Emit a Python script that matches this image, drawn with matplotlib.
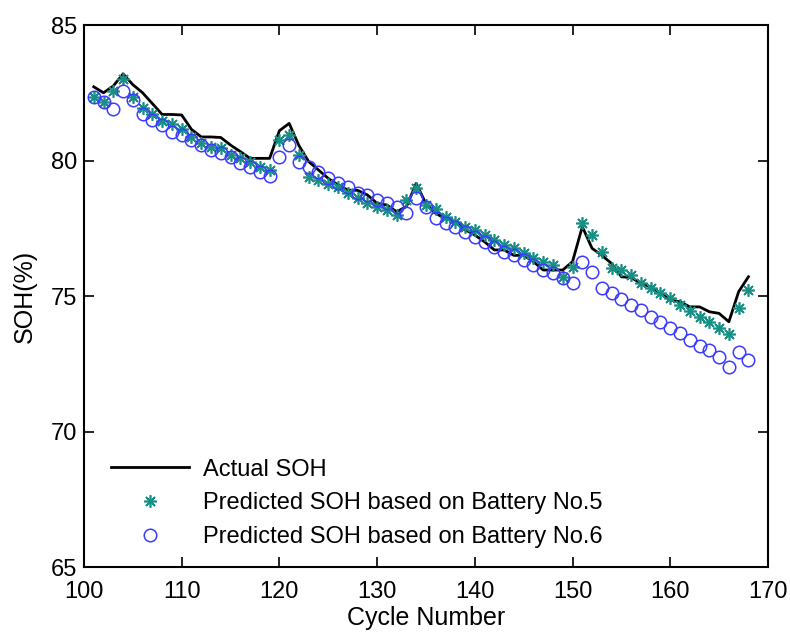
import numpy as np
import matplotlib
matplotlib.use("Agg")
import matplotlib.pyplot as plt

plt.rcParams['font.family'] = ['Liberation Sans', 'DejaVu Sans']

cycles = np.arange(101, 169)

actual_soh = [
    82.72, 82.50, 82.75, 83.20, 82.80, 82.50, 82.10, 81.70, 81.70, 81.68,
    81.15, 80.87, 80.87, 80.85, 80.57, 80.33, 80.08, 80.08, 80.08, 81.10,
    81.37, 80.55, 79.96, 79.65, 79.34, 79.10, 78.91, 78.90, 78.73, 78.42,
    78.36, 78.11, 78.30, 79.16, 78.40, 78.05, 77.85, 77.75, 77.45, 77.25,
    77.00, 76.70, 76.70, 76.50, 76.50, 76.27, 75.96, 75.96, 75.96, 76.27,
    77.56, 76.76, 76.50, 76.20, 75.71, 75.68, 75.47, 75.34, 75.10, 74.85,
    74.79, 74.60, 74.60, 74.42, 74.36, 74.05, 75.16, 75.71,
]

pred_b5 = [
    82.35, 82.15, 82.55, 83.00, 82.35, 81.95, 81.72, 81.47, 81.35, 81.15,
    80.86, 80.63, 80.51, 80.45, 80.20, 80.08, 79.96, 79.77, 79.65, 80.76,
    80.94, 80.20, 79.40, 79.28, 79.13, 79.03, 78.79, 78.60, 78.42, 78.30,
    78.17, 77.99, 78.54, 79.00, 78.35, 78.20, 77.93, 77.74, 77.56, 77.44,
    77.25, 77.07, 76.88, 76.76, 76.58, 76.39, 76.27, 76.14, 75.71, 76.08,
    77.71, 77.25, 76.64, 76.02, 75.96, 75.77, 75.47, 75.28, 75.10, 74.91,
    74.67, 74.46, 74.24, 74.05, 73.81, 73.60, 74.55, 75.22,
]

pred_b6 = [
    82.35, 82.15, 81.89, 82.58, 82.23, 81.72, 81.50, 81.31, 81.06, 80.94,
    80.76, 80.57, 80.39, 80.27, 80.12, 79.92, 79.75, 79.59, 79.43, 80.12,
    80.57, 79.96, 79.77, 79.59, 79.34, 79.18, 79.03, 78.79, 78.73, 78.54,
    78.44, 78.30, 78.05, 78.60, 78.27, 77.87, 77.68, 77.56, 77.37, 77.19,
    77.00, 76.82, 76.64, 76.51, 76.33, 76.14, 75.96, 75.84, 75.65, 75.49,
    76.27, 75.87, 75.28, 75.12, 74.88, 74.67, 74.48, 74.24, 74.05, 73.81,
    73.62, 73.38, 73.16, 73.01, 72.74, 72.37, 72.95, 72.64,
]

fig = plt.figure(figsize=(7.9, 6.32), dpi=100)
ax = fig.add_axes([0.1063, 0.1028, 0.8658, 0.8576])

ax.plot(cycles, actual_soh, color='black', lw=2, label='Actual SOH')
ax.plot(cycles, pred_b5, ls='none', marker=(8, 2, 0), ms=9, color='#178f85',
        mew=1.2, label='Predicted SOH based on Battery No.5')
ax.plot(cycles, pred_b6, ls='none', marker='o', ms=9, mfc='none',
        mec='#3b3bff', mew=1.1, label='Predicted SOH based on Battery No.6')

ax.set_xlim(100, 170)
ax.set_ylim(65, 85)
ax.set_xticks(np.arange(100, 171, 10))
ax.set_yticks(np.arange(65, 86, 5))
ax.tick_params(direction='in', length=7, width=1.2, labelsize=17,
               top=True, right=True)
ax.tick_params(axis='x', pad=10)
ax.tick_params(axis='y', pad=5)
for s in ax.spines.values():
    s.set_linewidth(1.5)

ax.set_xlabel('Cycle Number', fontsize=18, labelpad=2)
ax.set_ylabel('SOH(%)', fontsize=18, labelpad=10)

ax.legend(loc='lower left', bbox_to_anchor=(0.012, 0.0), frameon=False,
          fontsize=17, handlelength=3.3, handletextpad=0.6,
          labelspacing=0.5, borderaxespad=0.4)

fig.savefig('out.png', dpi=100)
